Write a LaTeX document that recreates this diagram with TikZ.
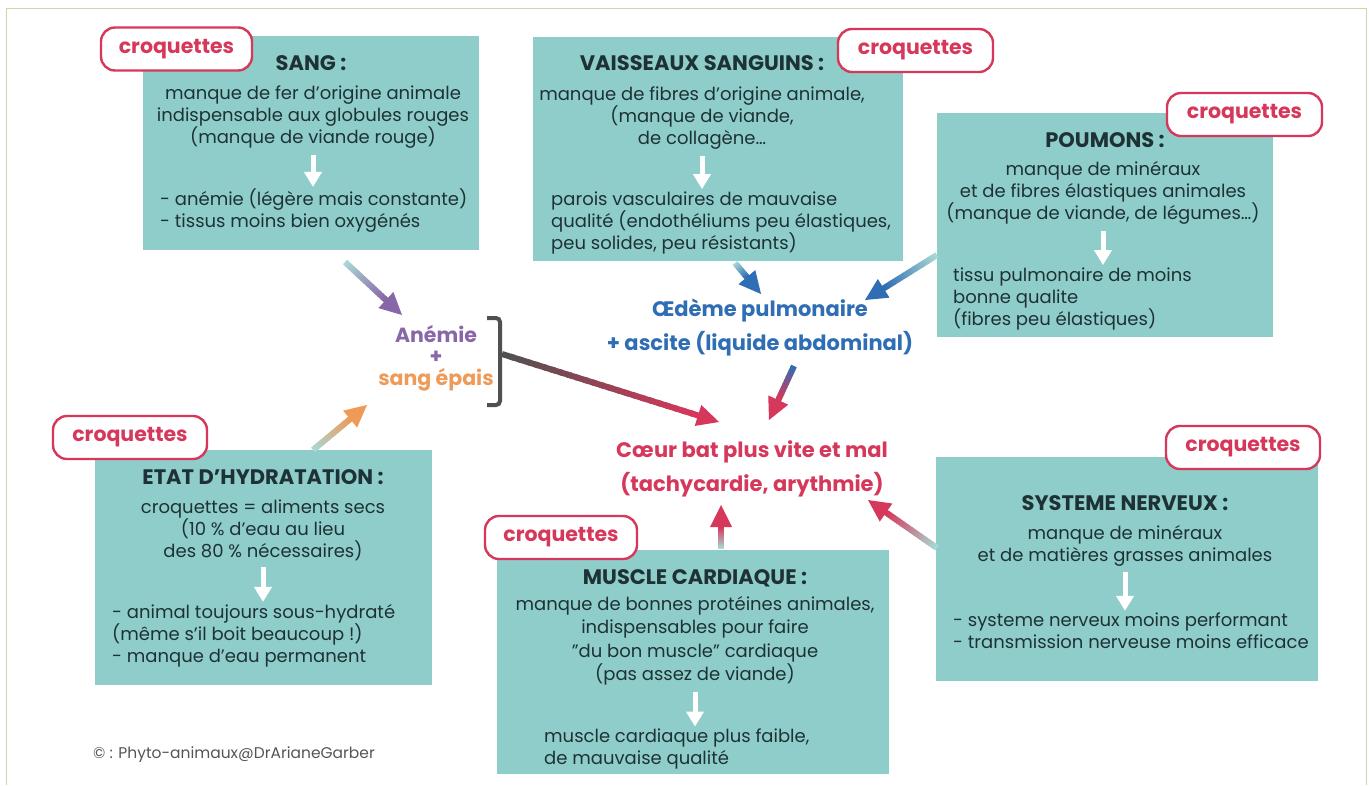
\documentclass[tikz,border=0pt]{standalone}
\usepackage{fontspec}
\setmainfont{Poppins}
\usetikzlibrary{arrows.meta,calc}

\definecolor{bleuvert}{HTML}{8FCDCA}
\definecolor{pale}{HTML}{A9D9D5}
\definecolor{rouge}{HTML}{D6385B}
\definecolor{encre}{HTML}{1E3236}
\definecolor{violet}{HTML}{8767A8}
\definecolor{orange}{HTML}{EE9B5A}
\definecolor{bleu}{HTML}{2F6DB5}
\definecolor{ardoise}{HTML}{505050}
\definecolor{cadre}{HTML}{D8D2A2}
\definecolor{gris}{HTML}{555555}

\tikzset{
  panneau/.style={fill=bleuvert, inner sep=0pt, anchor=north west},
  pastille/.style={draw=rouge, line width=2.4pt, fill=white, rounded corners=14pt,
    text=rouge, font=\fontsize{20.5}{22}\selectfont\bfseries,
    minimum width=151pt, minimum height=43pt, inner sep=0pt},
  titre/.style={text=encre, font=\fontsize{21}{22}\selectfont\bfseries, inner sep=0pt},
  corps/.style={text=encre, font=\fontsize{18}{22}\selectfont, inner sep=0pt, align=center},
  liste/.style={corps, align=left, anchor=west},
  descente/.style={white, line width=5pt, -{Triangle[length=15pt,width=17pt]}},
  effet/.style={font=\fontsize{21}{34}\selectfont\bfseries, inner sep=0pt, align=center},
}

% 渐变箭头: 起点, 终点, 起色, 终色
\newcommand{\degrade}[4]{%
  \coordinate (dg-b) at ($(#2)!22pt!(#1)$);
  \foreach \i in {0,...,23}{
    \pgfmathtruncatemacro{\pc}{100-\i*100/23}
    \draw[line width=6pt, #3!\pc!#4] ($(#1)!\i/24!(dg-b)$) -- ($(#1)!{(\i+1.5)/24}!(dg-b)$);
  }
  \fill[#4] (#2) -- ($(dg-b)!11pt!90:(#2)$) -- ($(dg-b)!11pt!-90:(#2)$) -- cycle;
}

\begin{document}
\begin{tikzpicture}[x=1pt, y=-1pt]
  \useasboundingbox (0,0) rectangle (1369,785);
  \draw[cadre, line width=1pt] (6,785) -- (6,8) -- (1366,8) -- (1366,785);

  % SANG
  \node[panneau, minimum width=336pt, minimum height=214pt] (sang) at (143,36) {};
  \node[pastille] (sangC) at (176.5,49) {croquettes};
  \node[titre] (sangT) at (311,63) {SANG :};
  \node[corps] (sangA) at (313,117) {manque de fer d’origine animale\\indispensable aux globules rouges\\(manque de viande rouge)};
  \node[liste] (sangB) at (160,211) {- anémie (légère mais constante)\\- tissus moins bien oxygénés};
  \draw[descente] ([yshift=-6pt]sangA.south) -- ([yshift=2pt]sangA.south |- sangB.north);

  % VAISSEAUX SANGUINS
  \node[panneau, minimum width=370pt, minimum height=224pt] (vais) at (533,37) {};
  \node[pastille, minimum width=155pt] (vaisC) at (915.5,50.5) {croquettes};
  \node[titre] (vaisT) at (702,63) {VAISSEAUX SANGUINS :};
  \node[corps] (vaisA) at (702,118.5) {manque de fibres d’origine animale,\\(manque de viande,\\de collagène…};
  \node[liste] (vaisB) at (551,222.5) {parois vasculaires de mauvaise\\qualité (endothéliums peu élastiques,\\peu solides, peu résistants)};
  \draw[descente] ([yshift=-6pt]vaisA.south) -- ([yshift=2pt]vaisA.south |- vaisB.north);

  % POUMONS
  \node[panneau, minimum width=336pt, minimum height=224pt] (poum) at (937,113) {};
  \node[pastille, minimum width=155pt] (poumC) at (1244.5,114.5) {croquettes};
  \node[titre] (poumT) at (1105,140) {POUMONS :};
  \node[corps] (poumA) at (1103,193) {manque de minéraux\\et de fibres élastiques animales\\(manque de viande, de légumes…)};
  \node[liste] (poumB) at (953,298.5) {tissu pulmonaire de moins\\bonne qualite\\(fibres peu élastiques)};
  \draw[descente] ([yshift=-6pt]poumA.south) -- ([yshift=2pt]poumA.south |- poumB.north);

  % ETAT D'HYDRATATION
  \node[panneau, minimum width=337pt, minimum height=235pt] (hydr) at (95,450) {};
  \node[pastille, minimum width=154pt] (hydrC) at (130,437.5) {croquettes};
  \node[titre] (hydrT) at (263,477) {ETAT D’HYDRATATION :};
  \node[corps] (hydrA) at (263,530.5) {croquettes = aliments secs\\(10 \% d’eau au lieu\\des 80 \% nécessaires)};
  \node[liste] (hydrB) at (112,635.5) {- animal toujours sous-hydraté\\(même s’il boit beaucoup !)\\- manque d’eau permanent};
  \draw[descente] ([yshift=-6pt]hydrA.south) -- ([yshift=2pt]hydrA.south |- hydrB.north);

  % MUSCLE CARDIAQUE
  \node[panneau, minimum width=392pt, minimum height=224pt] (musc) at (497,550) {};
  \node[pastille, minimum width=152pt] (muscC) at (561,537.5) {croquettes};
  \node[titre] (muscT) at (695,578) {MUSCLE CARDIAQUE :};
  \node[corps, font=\fontsize{18}{23.5}\selectfont] (muscA) at (695,641) {manque de bonnes protéines animales,\\indispensables pour faire\\"du bon muscle" cardiaque\\(pas assez de viande)};
  \node[liste] (muscB) at (544,749) {muscle cardiaque plus faible,\\de mauvaise qualité};
  \draw[descente] ([yshift=-6pt]muscA.south) -- ([yshift=2pt]muscA.south |- muscB.north);

  % SYSTEME NERVEUX
  \node[panneau, minimum width=382pt, minimum height=224pt] (nerf) at (936,457) {};
  \node[pastille, minimum width=154pt] (nerfC) at (1243,447.5) {croquettes};
  \node[titre] (nerfT) at (1125,503) {SYSTEME NERVEUX :};
  \node[corps] (nerfA) at (1125,545.5) {manque de minéraux\\et de matières grasses animales};
  \node[liste] (nerfB) at (953,631) {- systeme nerveux moins performant\\- transmission nerveuse moins efficace};
  \draw[descente] ([yshift=-6pt]nerfA.south) -- ([yshift=2pt]nerfA.south |- nerfB.north);

  % 中间结论
  \node[effet, font=\fontsize{20.5}{21.5}\selectfont\bfseries] (anemie) at (436,358)
    {\textcolor{violet}{Anémie}\\\textcolor{violet}{+}\\\textcolor{orange}{sang épais}};
  \node[effet, text=bleu] (oedeme) at (760,328) {Œdème pulmonaire\\+ ascite (liquide abdominal)};
  \node[effet, text=rouge] (coeur) at (752,469) {Cœur bat plus vite et mal\\(tachycardie, arythmie)};
  \draw[ardoise, line width=4pt, rounded corners=4pt] (487,318) -- (500,318) -- (500,405) -- (487,405);

  \coordinate (s1) at (345,262);  \coordinate (e1) at (402,315);
  \coordinate (s2) at (735,263);  \coordinate (e2) at (761,294);
  \coordinate (s3) at (937,255);  \coordinate (e3) at (865,300);
  \coordinate (s4) at (502,354);  \coordinate (e4) at (719,422);
  \coordinate (s5) at (794,366);  \coordinate (e5) at (769,420);
  \coordinate (s6) at (313,450);  \coordinate (e6) at (367,405);
  \coordinate (s7) at (721,549);  \coordinate (e7) at (721,505);
  \coordinate (s8) at (937,548);  \coordinate (e8) at (868,500);

  \degrade{s1}{e1}{pale}{violet}
  \degrade{s2}{e2}{pale}{bleu}
  \degrade{s3}{e3}{pale}{bleu}
  \degrade{s4}{e4}{ardoise}{rouge}
  \degrade{s5}{e5}{bleu}{rouge}
  \degrade{s6}{e6}{pale}{orange}
  \degrade{s7}{e7}{pale}{rouge}
  \degrade{s8}{e8}{pale}{rouge}

  \node[anchor=west, text=gris, font=\fontsize{15.5}{18}\selectfont, inner sep=0pt] (credit) at (93,755) {© : Phyto-animaux@DrArianeGarber};
\end{tikzpicture}
\end{document}
